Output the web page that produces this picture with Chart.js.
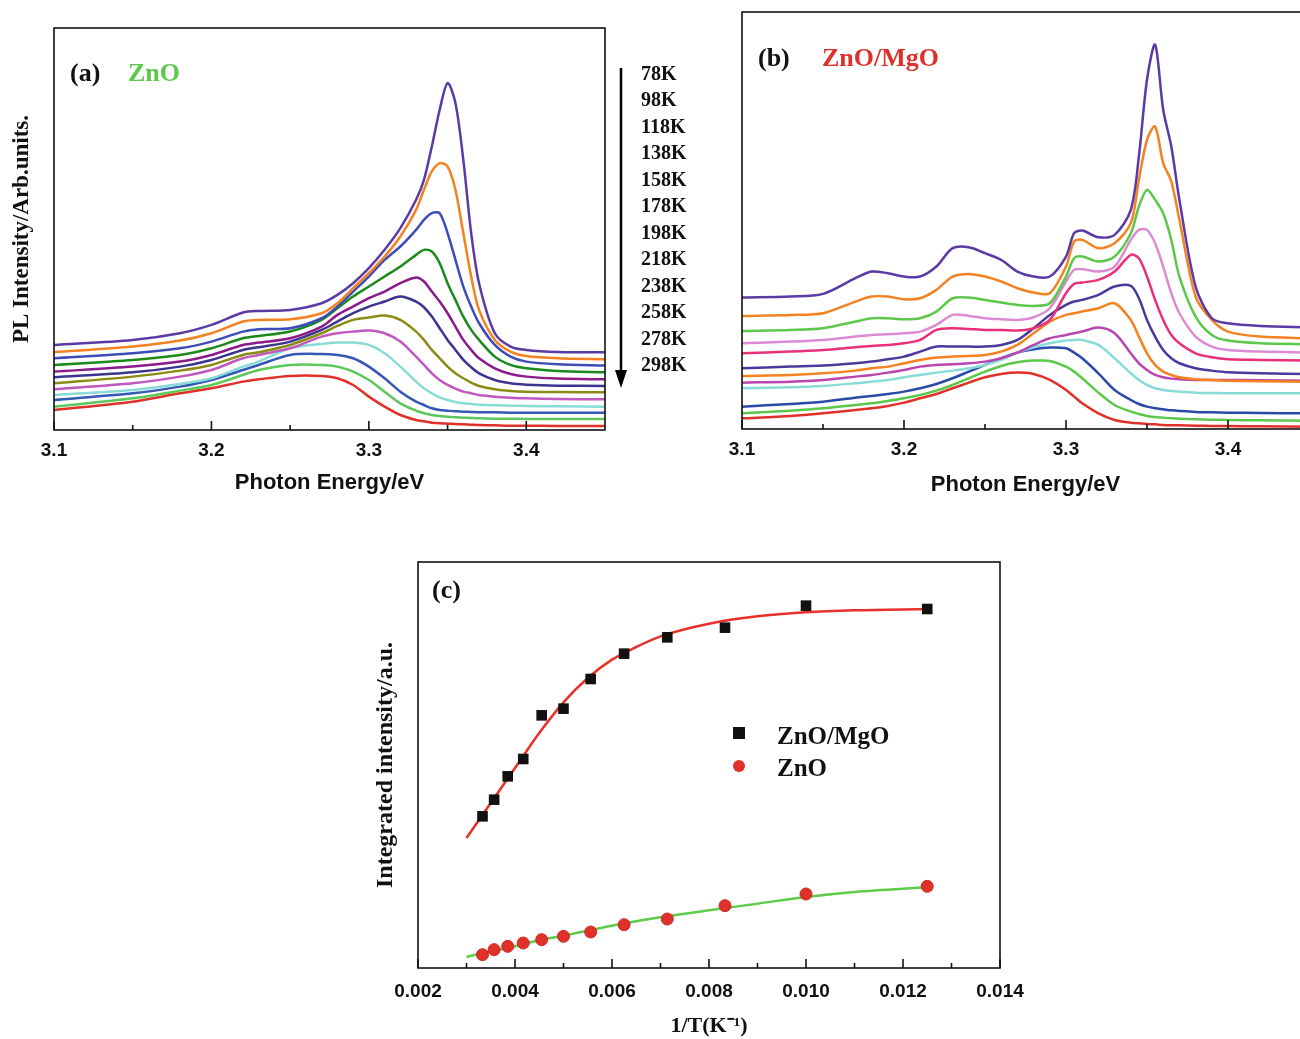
<!DOCTYPE html>
<html>
<head>
<meta charset="utf-8">
<title>ZnO / ZnO-MgO PL spectra</title>
<script src="https://cdn.jsdelivr.net/npm/chart.js@4.4.1/dist/chart.umd.min.js"></script>
<style>
body { margin: 0; background: #fff; }
#page { position: relative; width: 1300px; height: 1039px; overflow: hidden; background: #fff; }
#page canvas { position: absolute; }
.lbl {
	position: absolute;
	font-family: "Liberation Serif", "Times New Roman", serif;
	font-weight: bold;
	white-space: nowrap;
	line-height: 1;
	transform: translateY(-50%);
	color: #111;
}
.temp { font-size: 20px; left: 641px; }
</style>
</head>
<body>
<div id="page">
	<canvas id="chart-a" width="620" height="500" style="left:0;top:0;width:620px;height:500px"></canvas>
	<canvas id="chart-b" width="630" height="500" style="left:700px;top:0;width:630px;height:500px"></canvas>
	<canvas id="chart-c" width="700" height="505" style="left:340px;top:540px;width:700px;height:505px"></canvas>

	<div class="lbl" style="left:70px;top:73px;font-size:26px">(a)</div>
	<div class="lbl" style="left:128px;top:73px;font-size:26px;color:#5cc84a">ZnO</div>
	<div class="lbl" style="left:758px;top:58px;font-size:26px">(b)</div>
	<div class="lbl" style="left:822px;top:58px;font-size:26px;color:#e0302a">ZnO/MgO</div>
	<div class="lbl" style="left:432px;top:590px;font-size:26px">(c)</div>

	<div id="temps"></div>
	<svg style="position:absolute;left:611px;top:64px" width="20" height="330">
		<line x1="10" y1="4" x2="10" y2="310" stroke="#000" stroke-width="2.5"/>
		<polygon points="4,306 16,306 10,324" fill="#000"/>
	</svg>

	<div style="position:absolute;left:733px;top:727px;width:12px;height:12px;background:#111"></div>
	<div class="lbl" style="left:777px;top:735px;font-size:25px">ZnO/MgO</div>
	<div style="position:absolute;left:733px;top:760px;width:12px;height:12px;border-radius:50%;background:#e0302a"></div>
	<div class="lbl" style="left:777px;top:767px;font-size:25px">ZnO</div>
</div>

<script>
'use strict';

// ---- panel (a): ZnO, PL spectra (arb. units) ----
var tempLabels = ['78K', '98K', '118K', '138K', '158K', '178K', '198K', '218K', '238K', '258K', '278K', '298K'];
var energyA = [3.10, 3.15, 3.18, 3.20, 3.22, 3.23, 3.25, 3.27, 3.28, 3.29, 3.30, 3.31, 3.32, 3.33, 3.335, 3.34, 3.345, 3.35, 3.355, 3.36, 3.365, 3.37, 3.38, 3.39, 3.40, 3.42, 3.45];
var znoK78  = [255, 270, 290, 315, 352, 357, 360, 380, 405, 440, 485, 540, 605, 690, 750, 850, 960, 1040, 980, 810, 590, 440, 290, 250, 240, 234, 233];
var znoK98  = [233, 250, 268, 290, 325, 330, 332, 350, 380, 425, 470, 520, 580, 660, 720, 775, 800, 790, 720, 590, 460, 360, 270, 235, 222, 215, 212];
var znoK118 = [215, 230, 245, 265, 295, 302, 305, 335, 370, 415, 460, 510, 550, 600, 630, 650, 650, 590, 510, 430, 370, 320, 255, 220, 205, 197, 193];
var znoK138 = [195, 210, 225, 245, 275, 282, 295, 330, 365, 400, 430, 460, 490, 525, 540, 535, 500, 440, 390, 340, 300, 270, 220, 195, 185, 177, 173];
var znoK158 = [175, 190, 205, 225, 255, 262, 275, 310, 345, 370, 395, 415, 440, 457, 445, 415, 385, 350, 310, 270, 240, 215, 185, 168, 160, 154, 152];
var znoK178 = [158, 173, 190, 210, 240, 248, 265, 300, 325, 350, 370, 385, 400, 385, 368, 340, 305, 270, 240, 210, 188, 170, 150, 140, 136, 133, 132];
var znoK198 = [140, 160, 178, 195, 225, 233, 255, 290, 312, 330, 337, 343, 330, 295, 270, 240, 215, 190, 170, 155, 142, 132, 122, 117, 115, 114, 113];
var znoK218 = [122, 140, 160, 180, 215, 225, 245, 280, 290, 295, 298, 290, 265, 220, 195, 170, 150, 135, 124, 115, 110, 105, 100, 97, 95, 93, 92];
var znoK238 = [105, 120, 138, 155, 190, 205, 245, 258, 262, 262, 255, 230, 190, 145, 125, 110, 98, 90, 84, 80, 78, 76, 74, 73, 72, 71, 70];
var znoK258 = [90, 110, 130, 150, 180, 195, 225, 228, 225, 215, 190, 155, 115, 85, 75, 65, 60, 58, 56, 55, 54, 53, 53, 52, 52, 52, 52];
var znoK278 = [70, 95, 118, 135, 165, 180, 195, 195, 190, 175, 150, 115, 80, 58, 50, 45, 42, 40, 38, 37, 36, 35, 34, 34, 33, 33, 33];
var znoK298 = [60, 85, 110, 125, 145, 152, 162, 162, 155, 135, 100, 70, 45, 30, 26, 22, 20, 19, 18, 17, 16, 15, 14, 13, 13, 12, 12];

// ---- panel (b): ZnO/MgO ----
var energyB = [3.10, 3.13, 3.15, 3.17, 3.18, 3.19, 3.20, 3.21, 3.22, 3.23, 3.24, 3.25, 3.26, 3.27, 3.28, 3.29, 3.30, 3.305, 3.31, 3.32, 3.33, 3.34, 3.345, 3.35, 3.355, 3.36, 3.365, 3.37, 3.38, 3.39, 3.40, 3.42, 3.45];
var mgoK78  = [394, 397, 405, 452, 472, 467, 457, 457, 487, 542, 545, 527, 507, 472, 457, 457, 517, 587, 595, 575, 582, 657, 817, 1047, 1152, 957, 847, 687, 427, 332, 317, 309, 305];
var mgoK98  = [339, 342, 347, 382, 397, 397, 389, 392, 417, 457, 465, 457, 442, 422, 409, 407, 487, 562, 567, 542, 557, 617, 747, 867, 907, 797, 742, 627, 397, 327, 292, 277, 272];
var mgoK118 = [294, 297, 302, 322, 332, 332, 329, 332, 352, 392, 394, 387, 379, 372, 369, 377, 457, 512, 517, 502, 517, 587, 667, 717, 687, 647, 567, 457, 337, 282, 265, 257, 254];
var mgoK138 = [257, 262, 267, 277, 282, 284, 287, 292, 312, 342, 339, 332, 329, 327, 335, 362, 442, 477, 479, 472, 487, 567, 597, 597, 557, 487, 407, 347, 277, 247, 237, 232, 229];
var mgoK158 = [227, 232, 237, 245, 249, 252, 257, 267, 297, 302, 300, 297, 297, 295, 302, 327, 407, 435, 439, 447, 472, 522, 512, 457, 387, 327, 282, 257, 227, 215, 209, 207, 205];
var mgoK178 = [182, 187, 190, 197, 202, 209, 217, 232, 247, 247, 247, 247, 252, 267, 302, 342, 372, 382, 387, 402, 427, 429, 392, 327, 277, 237, 212, 197, 182, 175, 170, 167, 165];
var mgoK198 = [159, 162, 167, 175, 182, 187, 197, 207, 214, 217, 219, 222, 232, 252, 287, 322, 342, 347, 352, 362, 377, 327, 277, 227, 192, 172, 162, 155, 149, 147, 145, 143, 142];
var mgoK218 = [139, 142, 147, 157, 162, 169, 177, 187, 192, 194, 197, 202, 212, 229, 252, 272, 282, 287, 292, 304, 287, 227, 197, 177, 162, 155, 151, 149, 147, 147, 147, 146, 145];
var mgoK238 = [122, 125, 129, 137, 142, 147, 155, 162, 169, 175, 182, 192, 207, 229, 245, 257, 265, 267, 267, 252, 212, 167, 147, 132, 122, 117, 114, 112, 109, 108, 107, 107, 107];
var mgoK258 = [67, 75, 82, 94, 99, 105, 112, 122, 135, 152, 172, 192, 212, 229, 239, 244, 242, 229, 212, 167, 117, 87, 75, 67, 62, 59, 56, 54, 51, 50, 49, 48, 47];
var mgoK278 = [47, 55, 62, 72, 77, 84, 92, 102, 115, 132, 152, 172, 189, 200, 205, 204, 187, 172, 152, 109, 72, 52, 45, 39, 36, 34, 32, 31, 29, 28, 27, 26, 25];
var mgoK298 = [32, 39, 47, 57, 62, 69, 79, 92, 105, 122, 139, 155, 165, 169, 165, 147, 117, 97, 77, 47, 27, 19, 17, 15, 14, 12, 11, 11, 10, 9, 9, 8, 7];

// ---- panel (c): integrated intensity vs 1/T ----
var invT         = [0.00333, 0.00357, 0.00385, 0.00417, 0.00455, 0.00500, 0.00556, 0.00625, 0.00714, 0.00833, 0.01000, 0.01250];
var mgoIntensity = [455, 505, 575, 627, 758, 778, 867, 943, 992, 1021, 1087, 1077];
var znoIntensity = [40, 55, 65, 75, 85, 95, 108, 130, 147, 187, 222, 245];
var fitX         = [0.0030, 0.0035, 0.0040, 0.0045, 0.0050, 0.0055, 0.0060, 0.0065, 0.0070, 0.0080, 0.0090, 0.0100, 0.0110, 0.0125];
var mgoFit       = [390, 495, 600, 705, 797, 870, 925, 963, 995, 1033, 1055, 1067, 1073, 1077];
var znoFit       = [33, 50, 65, 83, 97, 112, 127, 140, 152, 173, 193, 213, 228, 242];

// tick values
var energyTicks = [3.1, 3.2, 3.3, 3.4];
var energyMinor = [3.15, 3.25, 3.35];
var invTTicks   = [0.002, 0.004, 0.006, 0.008, 0.010, 0.012, 0.014];
var invTMinor   = [0.003, 0.005, 0.007, 0.009, 0.011, 0.013];

var colorsA = ['#5b3aa5', '#f58220', '#3d4db7', '#1b8a1b', '#8b1a8b', '#3b3590', '#8b8b14', '#c058c0', '#88dcd8', '#3557b5', '#5cc85a', '#e0302a'];
var colorsB = ['#5b3aa5', '#f58220', '#5cc84a', '#dc8ad4', '#e8307a', '#4a3a9e', '#f58220', '#b845b0', '#88dcd8', '#2a4aa8', '#5cc84a', '#e0302a'];

var serif = '"Liberation Serif", "Times New Roman", serif';
var sans = '"Liberation Sans", Arial, sans-serif';

// temperature list beside panel (a)
(function () {
	var box = document.getElementById('temps');
	tempLabels.forEach(function (t, i) {
		var d = document.createElement('div');
		d.className = 'lbl temp';
		d.style.top = (73 + i * 26.45) + 'px';
		d.textContent = t;
		box.appendChild(d);
	});
})();

function pairs(xs, ys) {
	return ys.map(function (y, j) { return { x: xs[j], y: y }; });
}

function spectraSets(xs, series, colors) {
	return series.map(function (ys, i) {
		return {
			label: tempLabels[i],
			data: pairs(xs, ys),
			borderColor: colors[i],
			borderWidth: 2.5,
			pointRadius: 0,
			tension: 0.3,
			fill: false
		};
	});
}

// box frame + inward ticks on the bottom axis
var framePlugin = {
	id: 'frame',
	afterDatasetsDraw: function (chart, args, opts) {
		var ctx = chart.ctx;
		var a = chart.chartArea;
		var xs = chart.scales.x;
		ctx.save();
		ctx.strokeStyle = '#111';
		ctx.lineWidth = 1.6;
		ctx.strokeRect(a.left, a.top, a.right - a.left, a.bottom - a.top);
		function tick(v, len) {
			var px = xs.getPixelForValue(v);
			ctx.beginPath();
			ctx.moveTo(px, a.bottom);
			ctx.lineTo(px, a.bottom - len);
			ctx.stroke();
		}
		(opts.major || []).forEach(function (v) { tick(v, 9); });
		(opts.minor || []).forEach(function (v) { tick(v, 5); });
		ctx.restore();
	}
};

function xAxis(min, max, ticks, digits, title, titleFont, tickPad, titlePad, height) {
	return {
		type: 'linear',
		min: min,
		max: max,
		afterBuildTicks: function (scale) {
			scale.ticks = ticks.map(function (v) { return { value: v }; });
		},
		afterFit: function (scale) { scale.height = height; },
		grid: { display: false, drawTicks: false },
		border: { display: false },
		ticks: {
			autoSkip: false,
			maxRotation: 0,
			padding: tickPad,
			color: '#111',
			font: { family: sans, size: 19, weight: 'bold' },
			callback: function (v) { return Number(v).toFixed(digits); }
		},
		title: {
			display: true,
			text: title,
			color: '#111',
			font: titleFont,
			padding: { top: 0, bottom: titlePad }
		}
	};
}

function yAxis(max, title, size, pad, width) {
	return {
		type: 'linear',
		min: 0,
		max: max,
		display: !!title,
		afterFit: function (scale) { scale.width = width; },
		grid: { display: false, drawTicks: false },
		border: { display: false },
		ticks: { display: false },
		title: {
			display: !!title,
			text: title,
			color: '#111',
			font: { family: serif, size: size, weight: 'bold' },
			padding: { top: pad, bottom: 0 }
		}
	};
}

var common = {
	responsive: false,
	animation: false,
	devicePixelRatio: 1,
	plugins: { legend: { display: false }, tooltip: { enabled: false } }
};

function opts(extra) {
	return Object.assign({}, common, extra, {
		plugins: Object.assign({}, common.plugins, extra.plugins)
	});
}

// panel (a)
new Chart(document.getElementById('chart-a'), {
	type: 'line',
	data: {
		datasets: spectraSets(energyA, [znoK78, znoK98, znoK118, znoK138, znoK158, znoK178, znoK198, znoK218, znoK238, znoK258, znoK278, znoK298], colorsA)
	},
	options: opts({
		layout: { padding: { left: 0, right: 15, top: 28, bottom: 0 } },
		scales: {
			x: xAxis(3.1, 3.45, energyTicks, 1, 'Photon Energy/eV', { family: sans, size: 22, weight: 'bold' }, 9, 4, 70),
			y: yAxis(1205, 'PL Intensity/Arb.units.', 23, 8, 54)
		},
		plugins: { frame: { major: energyTicks, minor: energyMinor } }
	}),
	plugins: [framePlugin]
});

// panel (b)
new Chart(document.getElementById('chart-b'), {
	type: 'line',
	data: {
		datasets: spectraSets(energyB, [mgoK78, mgoK98, mgoK118, mgoK138, mgoK158, mgoK178, mgoK198, mgoK218, mgoK238, mgoK258, mgoK278, mgoK298], colorsB)
	},
	options: opts({
		layout: { padding: { left: 42, right: 21, top: 12, bottom: 0 } },
		scales: {
			x: xAxis(3.1, 3.45, energyTicks, 1, 'Photon Energy/eV', { family: sans, size: 22, weight: 'bold' }, 9, 2, 71),
			y: yAxis(1250, '', 0, 0, 0)
		},
		plugins: { frame: { major: energyTicks, minor: energyMinor } }
	}),
	plugins: [framePlugin]
});

// panel (c)
new Chart(document.getElementById('chart-c'), {
	type: 'scatter',
	data: {
		datasets: [
			{
				label: 'ZnO/MgO',
				data: pairs(invT, mgoIntensity),
				pointStyle: 'rect',
				pointRadius: 7.5,
				backgroundColor: '#111',
				borderColor: '#111',
				borderWidth: 0,
				order: 0
			},
			{
				label: 'ZnO',
				data: pairs(invT, znoIntensity),
				pointStyle: 'circle',
				pointRadius: 6,
				backgroundColor: '#e0302a',
				borderColor: '#d02820',
				borderWidth: 1,
				order: 0
			},
			{
				label: 'ZnO/MgO fit',
				data: pairs(fitX, mgoFit),
				showLine: true,
				pointRadius: 0,
				borderColor: '#e8302a',
				borderWidth: 2.5,
				cubicInterpolationMode: 'monotone',
				order: 1
			},
			{
				label: 'ZnO fit',
				data: pairs(fitX, znoFit),
				showLine: true,
				pointRadius: 0,
				borderColor: '#5ccc4a',
				borderWidth: 2.5,
				cubicInterpolationMode: 'monotone',
				order: 1
			}
		]
	},
	options: opts({
		layout: { padding: { left: 0, right: 40, top: 22, bottom: 0 } },
		scales: {
			x: xAxis(0.002, 0.014, invTTicks, 3, '1/T(K\u207B\u00B9)', { family: serif, size: 22, weight: 'bold' }, 12, 5, 77),
			y: yAxis(1218, 'Integrated intensity/a.u.', 24, 31, 78)
		},
		plugins: { frame: { major: invTTicks, minor: invTMinor } }
	}),
	plugins: [framePlugin]
});
</script>
</body>
</html>
